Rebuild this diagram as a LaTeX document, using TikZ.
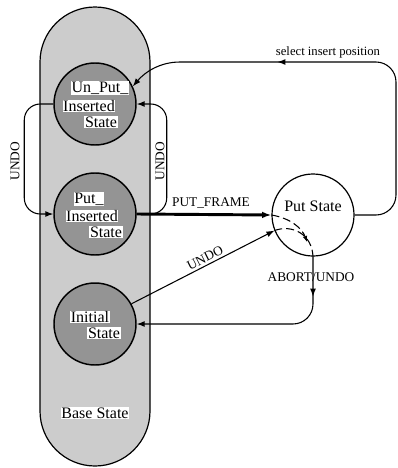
\documentclass[tikz,border=0pt]{standalone}
\usepackage{fontspec}
\setmainfont{Liberation Serif}
\usetikzlibrary{arrows.meta,decorations.markings}
\begin{document}
\begin{tikzpicture}[x=0.75pt,y=-0.75pt,
  >={Latex[length=6pt,width=4.5pt]},
  outer/.style={draw, line width=0.9pt, fill=black!20, rounded corners=41.25pt,
    minimum width=82.5pt, minimum height=344.25pt, inner sep=0pt},
  state/.style={circle, draw, line width=1.1pt, fill=black!42,
    minimum size=61.5pt, inner sep=0pt},
  plain/.style={circle, draw, line width=0.9pt, fill=white,
    minimum size=61.5pt, inner sep=0pt},
  txt/.style={fill=white, inner sep=0.4pt, font=\fontsize{12}{13}\selectfont},
  lbl/.style={inner sep=1pt, font=\fontsize{10}{11}\selectfont},
  small/.style={inner sep=1pt, font=\fontsize{9.5}{10}\selectfont},
  conn/.style={line width=0.8pt},
  midarrow/.style={postaction={decorate},
    decoration={markings, mark=at position #1 with {\arrow{>}}}}
]
\useasboundingbox (0,0) rectangle (397,468);

% base state container and its three substates
\node[outer] (base) at (95,236.5) {};
\node[state] (unput) at (95,104) {};
\node[state] (putins) at (95,214) {};
\node[state] (init) at (95,324) {};
\node[plain] (put) at (313,215) {};

% state names
\node[txt] (unputA) at (100,88) {Un\_Put\_};
\node[txt] (unputB) at (89,106) {Inserted};
\node[txt] (unputC) at (101,122) {State};
\node[txt] (putinsA) at (89,199) {Put\_};
\node[txt] (putinsB) at (92,216) {Inserted};
\node[txt] (putinsC) at (106,232) {State};
\node[txt] (initA) at (90,317) {Initial};
\node[txt] (initB) at (104,333) {State};
\node[txt] (baseL) at (95,413) {Base State};
\node[font=\fontsize{12}{13}\selectfont, inner sep=0pt] (putL) at (313,206) {Put State};

% transition labels
\node[small] (selL) at (328,52) {select insert position};
\node[lbl, rotate=90] (undoL) at (15,161) {UNDO};
\node[lbl, rotate=90] (undoR) at (160,161) {UNDO};
\node[lbl] (pfL) at (211,203) {PUT\_FRAME};
\node[lbl, rotate=26.7] (undoD) at (205,258) {UNDO};
\node[lbl] (abL) at (311,277) {ABORT/UNDO};

\coordinate (dashEnd) at (307,242);

% select insert position: back from Put State to Un_Put_Inserted
\draw[conn, rounded corners=15, midarrow=0.66, ->]
  (put.east) -- (396,215) -- (396,62) -- (200,62)
  .. controls (160,62) and (145,72) .. (unput.25);

% UNDO loops between the two upper substates
\draw[conn, rounded corners=12, ->] (unput.west) -- ++(-29,0) |- (putins.west);
\draw[conn, rounded corners=12, ->] (putins.east) -- ++(30,0) |- (unput.east);

% PUT_FRAME
\draw[line width=2.2pt, -{Latex[length=7pt,width=5pt]}] (putins.east) -- (put.west);

% UNDO from Initial State into Put State
\draw[conn, ->] (init.29) -- (put.202);

% paths through Put State
\draw[conn, dashed, dash pattern=on 6pt off 3pt, -{Latex[length=4.5pt,width=3.5pt]}]
  (put.west) .. controls (290,218) and (302,228) .. (dashEnd);
\draw[conn, dashed, dash pattern=on 6pt off 3pt]
  (put.202) .. controls (292,224) and (312,234) .. (put.south);

% ABORT/UNDO back to Initial State
\draw[conn, rounded corners=15, midarrow=0.17, ->]
  (put.south) -- (put.south |- init.east) -- (init.east);
\end{tikzpicture}
\end{document}
